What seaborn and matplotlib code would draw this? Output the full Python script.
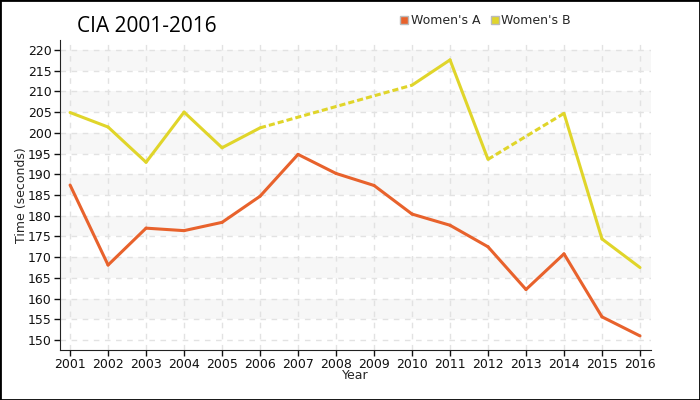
import numpy as np
import pandas as pd
import seaborn as sns
import matplotlib.pyplot as plt
from matplotlib.lines import Line2D
from matplotlib.patches import Rectangle

years = list(range(2001, 2017))
womens_a = [187.4, 168.1, 177.0, 176.4, 178.4, 184.7, 194.8, 190.2,
            187.3, 180.4, 177.7, 172.5, 162.2, 170.8, 155.6, 151.0]
womens_b = [204.9, 201.4, 192.9, 205.0, 196.4, 201.2, np.nan, np.nan,
            np.nan, 211.5, 217.6, 193.6, np.nan, 204.7, 174.4, 167.5]
series_names = ["Women's A", "Women's B"]
colors = {"Women's A": "#e8622c", "Women's B": "#e0d52a"}


def segments(name, values):
    # morceaux pleins entre points connus, pointillés sur les trous
    rows = []
    known = [(y, v) for y, v in zip(years, values) if not np.isnan(v)]
    for i in range(len(known) - 1):
        (y0, v0), (y1, v1) = known[i], known[i + 1]
        kind = "solid" if y1 - y0 == 1 else "gap"
        seg = f"{name}-{i}"
        rows.append((name, seg, kind, y0, v0))
        rows.append((name, seg, kind, y1, v1))
    return rows


rows = segments(series_names[0], womens_a) + segments(series_names[1], womens_b)
df = pd.DataFrame(rows, columns=["series", "seg", "kind", "Year", "Time"])

sns.set_style("white")
plt.rcParams['font.family'] = ['DejaVu Sans']

fig = plt.figure(figsize=(7, 4), dpi=100)
ax = fig.add_axes([0.086, 0.125, 0.844, 0.775])

for lo in range(155, 220, 10):
    ax.axhspan(lo, lo + 5, color="#f7f7f7", zorder=0, lw=0)

sns.lineplot(data=df, x="Year", y="Time", hue="series", style="kind",
             units="seg", estimator=None, palette=colors,
             dashes={"solid": "", "gap": (2, 1)}, linewidth=2.2,
             legend=False, ax=ax, zorder=3)

ax.set_xlim(2000.74, 2016.29)
ax.set_ylim(147.6, 222.4)
ax.set_xticks(years)
ax.set_yticks(range(150, 221, 5))
ax.tick_params(labelsize=9, colors="#111111", length=4, pad=2,
               direction="out", left=True, bottom=True, width=1)
ax.grid(True, color="#e2e2e2", linestyle=(0, (4, 4)), linewidth=1, zorder=1)
ax.set_axisbelow(True)
for side in ["top", "right"]:
    ax.spines[side].set_visible(False)
for side in ["left", "bottom"]:
    ax.spines[side].set_color("#222222")
ax.set_xlabel("Year", fontsize=9, labelpad=-2)
ax.set_ylabel("Time (seconds)", fontsize=9, labelpad=0)

fig.text(0.11, 0.935, "CIA 2001-2016", fontsize=15, family="Open Sans",
         color="black", va="center", ha="left")

handles = [Line2D([], [], marker="s", linestyle="", markersize=6,
                  markerfacecolor=colors[n], markeredgecolor="#bbbbbb",
                  label=n) for n in series_names]
fig.legend(handles=handles, loc="center", bbox_to_anchor=(0.693, 0.948),
           ncol=2, frameon=False, fontsize=9, handletextpad=0.1,
           columnspacing=0.8, handlelength=0.8)

fig.patches.append(Rectangle((0, 0), 1, 1, transform=fig.transFigure,
                             fill=False, edgecolor="black", linewidth=2))

fig.savefig("out.png", dpi=100)
